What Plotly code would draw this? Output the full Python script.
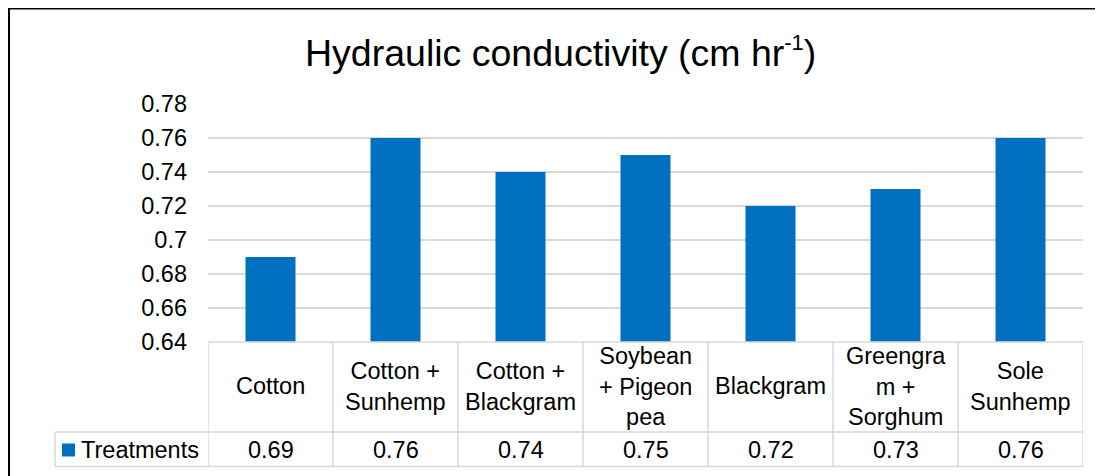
import plotly.graph_objects as go

categories = ["Cotton", "Cotton +<br>Sunhemp", "Cotton +<br>Blackgram", "Soybean<br>+ Pigeon<br>pea",
              "Blackgram", "Greengra<br>m +<br>Sorghum", "Sole<br>Sunhemp"]
values = [0.69, 0.76, 0.74, 0.75, 0.72, 0.73, 0.76]
value_labels = ["0.69", "0.76", "0.74", "0.75", "0.72", "0.73", "0.76"]
series_name = "Treatments"
tick_vals = [0.64, 0.66, 0.68, 0.70, 0.72, 0.74, 0.76, 0.78]
tick_text = ["0.64", "0.66", "0.68", "0.7", "0.72", "0.74", "0.76", "0.78"]
title_text = "Hydraulic conductivity (cm hr<sup><span style='font-size:22px'>-1</span></sup>)"

OFF = 8  # page body margin
W, H = 1103 - OFF, 476 - OFF
L, R, T, B = 208 - OFF, 1083 - OFF, 104 - OFF, 342 - OFF
BLUE = "#0070C0"
GRID = "#d9d9d9"
FONT = "Arial, Liberation Sans, sans-serif"

def px(x):
    # screen x (reference) -> paper
    return (x - OFF - L) / (R - L)

def py(y):
    return (B - (y - OFF)) / (B - T)

n = len(categories)
xs = list(range(n))

fig = go.Figure()
fig.add_trace(go.Bar(x=xs, y=values, marker=dict(color=BLUE, line=dict(width=0)),
                     width=0.4, name=series_name, showlegend=False))

shapes = []
annotations = []
# outer chart border
shapes.append(dict(type="rect", xref="paper", yref="paper", x0=px(9), x1=px(1130),
                   y0=py(8.5), y1=py(500), line=dict(color="#000000", width=2)))
# data table
row1_bot = py(432)
row2_bot = py(466.5)
for i in range(n + 1):
    shapes.append(dict(type="line", xref="x", yref="paper", x0=i - 0.5, x1=i - 0.5,
                       y0=0, y1=row2_bot, line=dict(color=GRID, width=1.5)))
shapes.append(dict(type="line", xref="paper", yref="paper", x0=0, x1=1, y0=0, y1=0,
                   line=dict(color=GRID, width=1.5)))
shapes.append(dict(type="line", xref="paper", yref="paper", x0=px(55), x1=1, y0=row1_bot, y1=row1_bot,
                   line=dict(color=GRID, width=1.5)))
shapes.append(dict(type="line", xref="paper", yref="paper", x0=px(55), x1=1, y0=row2_bot, y1=row2_bot,
                   line=dict(color=GRID, width=1.5)))
shapes.append(dict(type="line", xref="paper", yref="paper", x0=px(55), x1=px(55), y0=row1_bot, y1=row2_bot,
                   line=dict(color=GRID, width=1.5)))
# legend key square
shapes.append(dict(type="rect", xref="paper", yref="paper", x0=px(62), x1=px(75),
                   y0=py(456.5), y1=py(443.5), fillcolor=BLUE, line=dict(width=0)))

r1c = py(386)
r2c = py(450)
for i, (c, v) in enumerate(zip(categories, value_labels)):
    annotations.append(dict(x=i, y=r1c, xref="x", yref="paper", text=c, showarrow=False,
                            xanchor="center", yanchor="middle", align="center",
                            font=dict(size=23.5, color="#000000", family=FONT)))
    annotations.append(dict(x=i, y=r2c, xref="x", yref="paper", text=v, showarrow=False,
                            xanchor="center", yanchor="middle",
                            font=dict(size=23.5, color="#000000", family=FONT)))
annotations.append(dict(x=px(79), y=r2c, xref="paper", yref="paper", text=series_name, showarrow=False,
                        xanchor="left", yanchor="middle",
                        font=dict(size=23.5, color="#000000", family=FONT)))
annotations.append(dict(x=px(560), y=py(52), xref="paper", yref="paper", text=title_text, showarrow=False,
                        xanchor="center", yanchor="middle",
                        font=dict(size=37.5, color="#000000", family=FONT)))

fig.update_layout(
    width=W, height=H,
    margin=dict(l=L, r=W - R, t=T, b=H - B, pad=0),
    paper_bgcolor="#ffffff", plot_bgcolor="#ffffff",
    font=dict(family=FONT, color="#000000"),
    shapes=shapes, annotations=annotations,
    bargap=0.6,
    xaxis=dict(range=[-0.5, n - 0.5], showticklabels=False, showgrid=False, zeroline=False,
               showline=False, ticks=""),
    yaxis=dict(range=[0.64, 0.78], tickvals=tick_vals, ticktext=tick_text, showgrid=True,
               gridcolor=GRID, gridwidth=1.5, zeroline=False, showline=False, ticks="",
               ticklabelstandoff=20, tickfont=dict(size=23.5, color="#000000", family=FONT)),
)

fig.write_html("out.html")
